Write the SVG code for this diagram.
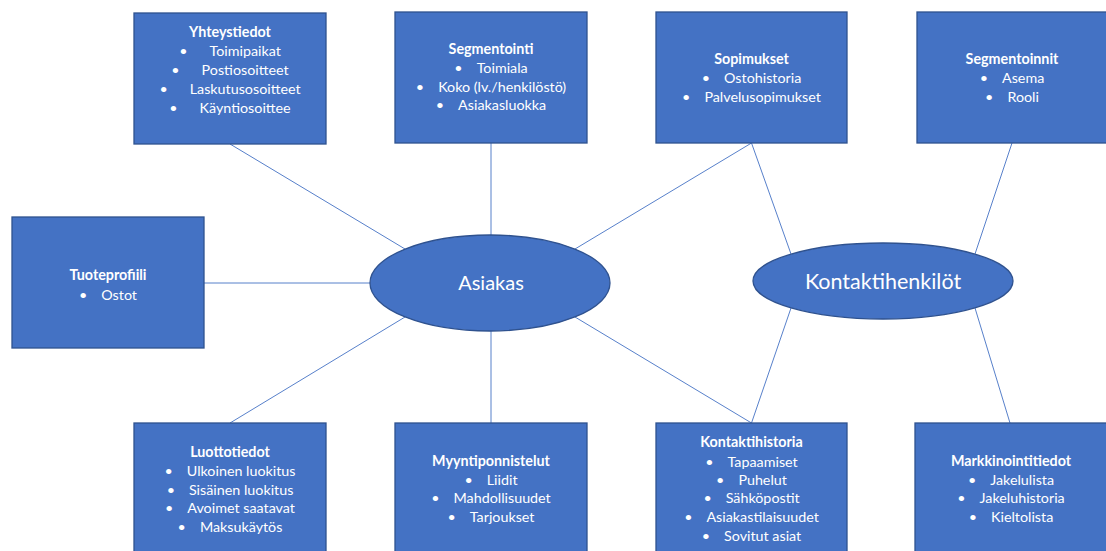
<svg xmlns="http://www.w3.org/2000/svg" width="1106" height="551" viewBox="0 0 1106 551">
  <style>
    .box { fill: #4472C4; stroke: #2F528F; stroke-width: 1.3; }
    .ell { fill: #4472C4; stroke: #2F528F; stroke-width: 1.3; }
    .link { stroke: #4472C4; stroke-width: 0.9; fill: none; }
    text { font-family: Lato, "Liberation Sans", sans-serif; fill: #FFFFFF; text-anchor: middle; }
    .t { font-size: 14.3px; font-weight: bold; }
    .i { font-size: 14.3px; }
    .big { font-size: 20px; }
    .big2 { font-size: 21.5px; }
  </style>
  <rect width="1106" height="551" fill="#FFFFFF"/>

  <g id="connectors">
    <line class="link" x1="230" y1="144" x2="405" y2="249"/>
    <line class="link" x1="491" y1="143" x2="491" y2="235"/>
    <line class="link" x1="751.5" y1="143" x2="575" y2="249"/>
    <line class="link" x1="751.5" y1="143" x2="791" y2="254"/>
    <line class="link" x1="1012" y1="143" x2="975" y2="254"/>
    <line class="link" x1="204" y1="283" x2="370" y2="283"/>
    <line class="link" x1="230" y1="423" x2="405" y2="317"/>
    <line class="link" x1="491" y1="423" x2="491" y2="331"/>
    <line class="link" x1="751.5" y1="423" x2="575" y2="317"/>
    <line class="link" x1="751.5" y1="423" x2="791" y2="308"/>
    <line class="link" x1="1010" y1="423" x2="975" y2="308"/>
  </g>

  <g id="yhteystiedot">
    <rect class="box" x="134" y="13" width="192" height="131"/>
    <text class="t" x="230" y="37">Yhteystiedot</text>
    <text class="i" x="230" y="56">•<tspan dx="22">Toimipaikat</tspan></text>
    <text class="i" x="230" y="75">•<tspan dx="22">Postiosoitteet</tspan></text>
    <text class="i" x="230" y="94">•<tspan dx="22">Laskutusosoitteet</tspan></text>
    <text class="i" x="230" y="113">•<tspan dx="22">Käyntiosoittee</tspan></text>
  </g>

  <g id="segmentointi">
    <rect class="box" x="395" y="12" width="192" height="131"/>
    <text class="t" x="491" y="54">Segmentointi</text>
    <text class="i" x="491" y="73">•<tspan dx="14">Toimiala</tspan></text>
    <text class="i" x="491" y="92">•<tspan dx="14">Koko (lv./henkilöstö)</tspan></text>
    <text class="i" x="491" y="110">•<tspan dx="14">Asiakasluokka</tspan></text>
  </g>

  <g id="sopimukset">
    <rect class="box" x="656" y="12" width="191" height="131"/>
    <text class="t" x="751.5" y="64">Sopimukset</text>
    <text class="i" x="751.5" y="83">•<tspan dx="14">Ostohistoria</tspan></text>
    <text class="i" x="751.5" y="102">•<tspan dx="14">Palvelusopimukset</tspan></text>
  </g>

  <g id="segmentoinnit">
    <rect class="box" x="917" y="12" width="192" height="131"/>
    <text class="t" x="1012" y="64">Segmentoinnit</text>
    <text class="i" x="1012" y="83">•<tspan dx="14">Asema</tspan></text>
    <text class="i" x="1012" y="102">•<tspan dx="14">Rooli</tspan></text>
  </g>

  <g id="tuoteprofiili">
    <rect class="box" x="12" y="217" width="192" height="131"/>
    <text class="t" x="108" y="280">Tuoteprofiili</text>
    <text class="i" x="108" y="300">•<tspan dx="14">Ostot</tspan></text>
  </g>

  <g id="asiakas">
    <ellipse class="ell" cx="490" cy="283" rx="120" ry="48"/>
    <text class="big" x="491" y="290">Asiakas</text>
  </g>

  <g id="kontaktihenkilot">
    <ellipse class="ell" cx="883" cy="281" rx="130" ry="38"/>
    <text class="big2" x="883" y="289">Kontaktihenkilöt</text>
  </g>

  <g id="luottotiedot">
    <rect class="box" x="134" y="423" width="192" height="135"/>
    <text class="t" x="230" y="457">Luottotiedot</text>
    <text class="i" x="230" y="476">•<tspan dx="14">Ulkoinen luokitus</tspan></text>
    <text class="i" x="230" y="495">•<tspan dx="14">Sisäinen luokitus</tspan></text>
    <text class="i" x="230" y="513">•<tspan dx="14">Avoimet saatavat</tspan></text>
    <text class="i" x="230" y="532">•<tspan dx="14">Maksukäytös</tspan></text>
  </g>

  <g id="myyntiponnistelut">
    <rect class="box" x="395" y="423" width="192" height="135"/>
    <text class="t" x="491" y="466">Myyntiponnistelut</text>
    <text class="i" x="491" y="485">•<tspan dx="14">Liidit</tspan></text>
    <text class="i" x="491" y="503">•<tspan dx="14">Mahdollisuudet</tspan></text>
    <text class="i" x="491" y="522">•<tspan dx="14">Tarjoukset</tspan></text>
  </g>

  <g id="kontaktihistoria">
    <rect class="box" x="656" y="423" width="191" height="135"/>
    <text class="t" x="751.5" y="447">Kontaktihistoria</text>
    <text class="i" x="751.5" y="467">•<tspan dx="14">Tapaamiset</tspan></text>
    <text class="i" x="751.5" y="485">•<tspan dx="14">Puhelut</tspan></text>
    <text class="i" x="751.5" y="503">•<tspan dx="14">Sähköpostit</tspan></text>
    <text class="i" x="751.5" y="522">•<tspan dx="14">Asiakastilaisuudet</tspan></text>
    <text class="i" x="751.5" y="541">•<tspan dx="14">Sovitut asiat</tspan></text>
  </g>

  <g id="markkinointitiedot">
    <rect class="box" x="915" y="423" width="194" height="135"/>
    <text class="t" x="1011" y="466">Markkinointitiedot</text>
    <text class="i" x="1011" y="485">•<tspan dx="14">Jakelulista</tspan></text>
    <text class="i" x="1011" y="503">•<tspan dx="14">Jakeluhistoria</tspan></text>
    <text class="i" x="1011" y="522">•<tspan dx="14">Kieltolista</tspan></text>
  </g>
</svg>
